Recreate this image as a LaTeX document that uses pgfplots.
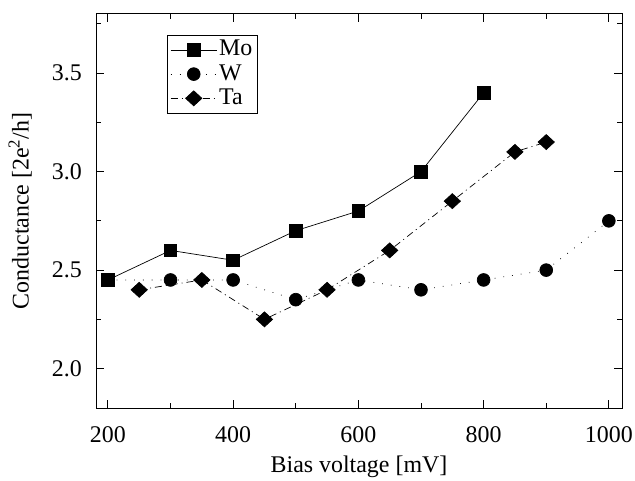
\documentclass[border=0pt]{standalone}
\usepackage{pgfplots}
\pgfplotsset{compat=1.18}
\usepackage{fontspec}
\setmainfont{Liberation Serif}
\begin{document}
\fontsize{24}{28}\selectfont
\begin{tikzpicture}
\begin{axis}[
  scale only axis,
  width=526bp, height=394bp,
  xmin=181, xmax=1021, ymin=1.8, ymax=3.8,
  xtick={200,400,600,800,1000},
  minor xtick={300,500,700,900},
  ytick={2.0,2.5,3.0,3.5},
  minor ytick={2.25,2.75,3.25,3.75},
  xticklabel style={/pgf/number format/1000 sep={}, yshift=-10bp},
  yticklabel style={/pgf/number format/fixed, /pgf/number format/fixed zerofill, /pgf/number format/precision=1, xshift=-6bp},
  /pgf/number format/assume math mode=true,
  tick align=inside,
  major tick length=8bp, minor tick length=5bp,
  tick style={line width=0.8pt,black},
  axis line style={line width=1pt},
  xlabel={Bias voltage [mV]},
  ylabel={Conductance [2e\textsuperscript{2}/h]},
  every tick label/.append style={font=\fontsize{24}{28}\selectfont},
  label style={font=\fontsize{24}{28}\selectfont},
  xlabel style={yshift=3bp},
  ylabel shift=4bp,
  legend style={at={(0.135,0.947)},anchor=north west, draw=black, line width=0.8pt,
    font=\fontsize{24}{28}\selectfont, row sep=1pt, inner sep=3pt},
  legend cell align=left,
  legend image code/.code={%
    \draw[mark repeat=2,mark phase=2] plot coordinates {(0bp,0bp)(23bp,0bp)(46bp,0bp)};},
]
\addplot[black, line width=0.7pt, mark=square*, mark size=6.3bp, mark options={solid}]
 coordinates {(200,2.45)(300,2.6)(400,2.55)(500,2.7)(600,2.8)(700,3.0)(800,3.4)};
\addlegendentry{Mo}
\addplot[black, line width=0.7pt, dash pattern=on 0.8pt off 8pt, mark=*, mark size=6.4bp, mark options={solid}]
 coordinates {(200,2.45)(300,2.45)(400,2.45)(500,2.35)(600,2.45)(700,2.4)(800,2.45)(900,2.5)(1000,2.75)};
\addlegendentry{W}
\addplot[black, line width=0.7pt, dash pattern=on 7pt off 4pt on 1pt off 4pt, mark=diamond*, mark size=7.5bp, mark options={solid,xscale=1.45}]
 coordinates {(250,2.4)(350,2.45)(450,2.25)(550,2.4)(650,2.6)(750,2.85)(850,3.1)(900,3.15)};
\addlegendentry{Ta}
\end{axis}
\pgfresetboundingbox
\path ([shift={(-96bp,-72bp)}]current axis.south west) rectangle ([shift={(13bp,14bp)}]current axis.north east);
\end{tikzpicture}
\end{document}
